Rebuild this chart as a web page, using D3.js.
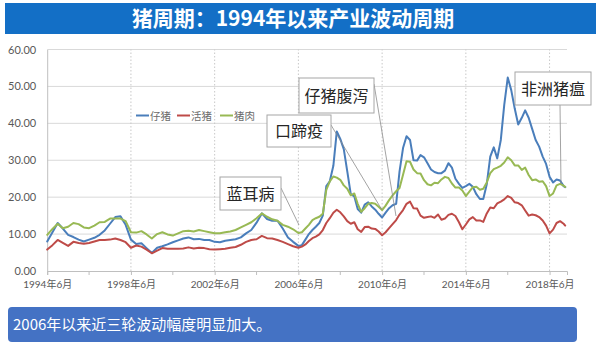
<!DOCTYPE html>
<html>
<head>
<meta charset="utf-8">
<script src="https://cdn.jsdelivr.net/npm/d3@7/dist/d3.min.js"></script>
<style>
  html, body { margin: 0; padding: 0; background: #ffffff; }
  svg { display: block; }
</style>
</head>
<body>
<svg id="chart" width="600" height="349"></svg>
<script>
// Sample dates: quarterly to 2006, every two months afterwards
const months = [
  "1994-06","1994-09","1994-12","1995-03","1995-06","1995-09","1995-12","1996-03","1996-06","1996-09","1996-12","1997-03",
  "1997-06","1997-09","1997-12","1998-03","1998-06","1998-09","1998-12","1999-03","1999-06","1999-09","1999-12","2000-03",
  "2000-06","2000-09","2000-12","2001-03","2001-06","2001-09","2001-12","2002-03","2002-06","2002-09","2002-12","2003-03",
  "2003-06","2003-09","2003-12","2004-03","2004-06","2004-09","2004-12","2005-03","2005-06","2005-09","2005-12","2006-03",
  "2006-06","2006-08","2006-10","2006-12","2007-02","2007-04","2007-06","2007-08","2007-10","2007-12","2008-02","2008-04",
  "2008-06","2008-08","2008-10","2008-12","2009-02","2009-04","2009-06","2009-08","2009-10","2009-12","2010-02","2010-04",
  "2010-06","2010-08","2010-10","2010-12","2011-02","2011-04","2011-06","2011-08","2011-10","2011-12","2012-02","2012-04",
  "2012-06","2012-08","2012-10","2012-12","2013-02","2013-04","2013-06","2013-08","2013-10","2013-12","2014-02","2014-04",
  "2014-06","2014-08","2014-10","2014-12","2015-02","2015-04","2015-06","2015-08","2015-10","2015-12","2016-02","2016-04",
  "2016-06","2016-08","2016-10","2016-12","2017-02","2017-04","2017-06","2017-08","2017-10","2017-12","2018-02","2018-04",
  "2018-06","2018-08","2018-10","2018-12","2019-02","2019-03"
];

// 仔猪 (piglet) price
const piglet = [
  8.0, 10.5, 13.0, 11.5, 9.8, 9.2, 8.5, 8.0, 8.5, 9.0, 9.8, 11.0,
  12.8, 14.6, 14.8, 12.5, 8.5, 7.3, 7.5, 6.2, 4.9, 6.3, 6.7, 7.2,
  7.8, 8.3, 8.8, 9.1, 8.6, 8.7, 8.4, 8.4, 7.9, 7.8, 8.2, 8.4,
  8.6, 9.1, 10.2, 11.1, 13.1, 15.6, 14.1, 13.6, 13.6, 11.5, 9.1, 7.9,
  6.8, 7.0, 8.5, 10.0, 11.1, 12.0, 13.0, 15.0, 23.0, 24.3, 28.5, 37.8,
  35.8, 33.0, 27.0, 20.8, 20.2, 16.8, 15.8, 18.0, 18.6, 17.5, 16.6, 15.5,
  14.5, 15.8, 17.0, 17.8, 18.2, 27.0, 33.3, 36.5, 35.5, 30.0, 29.9, 31.4,
  30.8, 29.2, 27.5, 26.8, 26.5, 26.5, 27.2, 29.2, 28.0, 25.0, 23.6, 22.5,
  23.0, 23.6, 22.8, 20.8, 19.5, 19.5, 23.5, 31.0, 33.5, 30.5, 35.5, 45.0,
  52.4, 49.0, 44.0, 39.7, 41.5, 43.5, 41.5, 38.5, 35.5, 33.7, 31.0, 29.0,
  25.5, 24.0, 24.8, 24.5, 23.0, 22.7
];

// 活猪 (live hog) price
const hog = [
  5.8, 7.0, 8.4, 7.6, 6.8, 7.9, 7.6, 7.4, 7.6, 8.0, 8.4, 8.4,
  8.5, 8.8, 8.4, 7.8, 6.3, 6.9, 6.6, 5.8, 4.8, 5.5, 6.2, 6.0,
  6.0, 6.0, 6.1, 6.4, 6.1, 6.3, 6.2, 5.9, 5.8, 5.9, 6.0, 6.3,
  6.5, 7.1, 7.9, 8.4, 8.6, 9.5, 8.9, 8.8, 8.4, 7.9, 7.3, 6.7,
  6.3, 6.6, 7.2, 8.1, 8.9, 9.3, 9.9, 11.1, 13.0, 14.3, 15.8, 16.6,
  15.9, 14.8, 13.5, 12.8, 13.2, 11.3, 10.6, 11.9, 12.0, 11.5, 11.4, 10.7,
  9.7, 10.5, 11.6, 12.7, 13.8, 15.3, 16.5, 18.2, 18.8, 17.0, 16.9, 15.0,
  14.4, 14.6, 14.8, 14.4, 15.3, 13.9, 14.2, 15.2, 15.5, 14.9, 13.2, 11.3,
  12.6, 14.0, 14.6, 13.7, 13.7, 13.3, 15.6, 17.2, 17.0, 18.3, 18.8, 19.4,
  20.3, 19.8, 18.6, 18.4, 17.8, 16.4, 15.0, 15.3, 15.1, 14.6, 13.7, 12.3,
  10.2, 11.2, 13.0, 13.5, 12.8, 12.3
];

// 猪肉 (pork) price
const pork = [
  9.8, 11.4, 12.8, 11.6, 12.0, 13.0, 12.7, 11.8, 11.6, 12.3, 13.2, 13.3,
  14.2, 14.2, 14.2, 13.5, 10.5, 10.4, 10.8, 9.9, 8.8, 10.0, 10.5, 9.9,
  9.6, 10.2, 10.8, 10.9, 10.7, 11.1, 10.8, 10.5, 10.2, 10.2, 10.5, 10.7,
  11.1, 11.8, 12.5, 13.2, 14.3, 15.6, 14.7, 14.0, 13.6, 12.5, 12.0, 11.3,
  10.3, 10.5, 11.5, 12.5, 13.8, 14.3, 14.7, 15.5, 22.0, 24.3, 25.6, 25.3,
  24.7, 23.2, 22.3, 20.5, 21.0, 18.2, 16.0, 17.0, 18.2, 18.4, 18.2, 17.4,
  16.5, 17.7, 19.2, 20.5, 21.6, 22.5, 26.1, 29.7, 29.6, 27.5, 26.5, 26.4,
  24.6, 23.5, 23.2, 23.9, 23.8, 24.8, 25.5, 25.2, 23.7, 22.6, 22.6, 21.8,
  20.3, 21.5, 22.7, 22.8, 22.0, 22.3, 24.0, 26.5, 27.6, 28.0, 28.5, 29.4,
  30.8, 30.0, 28.6, 28.6, 27.4, 28.0, 26.0, 24.6, 24.8, 24.2, 24.3, 23.0,
  20.3, 21.0, 23.2, 23.6, 23.1, 22.8
];

const seriesNames = ["仔猪", "活猪", "猪肉"];
const seriesColors = ["#4a7ebb", "#be4b48", "#98b954"];
const yTicks = [0, 10, 20, 30, 40, 50, 60];
const labelMonths = ["1994-06", "1998-06", "2002-06", "2006-06", "2010-06", "2014-06", "2018-06"];
const minorMonths = ["1996-06", "2000-06", "2004-06", "2008-06", "2012-06", "2016-06"];
const axisEnd = "2019-04";

const titleText = "猪周期：1994年以来产业波动周期";
const noteText = "2006年以来近三轮波动幅度明显加大。";

// Event callouts: label, box placement, and the leader line target
const events = [
  { label: "蓝耳病",   box: [220, 177, 61, 33], from: [281, 188], to: [299, 225] },
  { label: "口蹄疫",   box: [267, 115, 64, 32], from: [331, 125], to: [382, 210] },
  { label: "仔猪腹泻", box: [299, 78, 75, 35],  from: [374, 84],  to: [396, 216] },
  { label: "非洲猪瘟", box: [515, 72, 76, 33],  from: [560, 105], to: [561, 184] }
];

const parse = d3.timeParse("%Y-%m");
const dates = months.map(parse);
const series = [piglet, hog, pork];

const svg = d3.select("#chart");
const cjk = "'Noto Sans CJK SC', 'Noto Sans', sans-serif";
const latin = "Lato, 'Noto Sans CJK SC', sans-serif";

// Title bar
svg.append("rect").attr("x", 5).attr("y", 3).attr("width", 591).attr("height", 31)
  .attr("fill", "#136fc6");
svg.append("text").attr("x", 293).attr("y", 26).attr("text-anchor", "middle")
  .attr("fill", "#ffffff").attr("font-family", cjk).attr("font-weight", "bold")
  .attr("font-size", 21).text(titleText);

// Scales
const x = d3.scaleTime().domain([parse("1994-06"), parse(axisEnd)]).range([47.2, 567]);
const y = d3.scaleLinear().domain([0, 60]).range([271, 49.5]);

// Horizontal gridlines
svg.append("g").selectAll("line").data(yTicks.filter(v => v > 0)).join("line")
  .attr("x1", x.range()[0]).attr("x2", x.range()[1])
  .attr("y1", d => y(d)).attr("y2", d => y(d))
  .attr("stroke", "#d9d9d9").attr("stroke-width", 1);

// Vertical dotted gridlines at the labelled dates
svg.append("g").selectAll("line").data(labelMonths.slice(1).map(parse)).join("line")
  .attr("x1", d => x(d)).attr("x2", d => x(d))
  .attr("y1", y(0)).attr("y2", y(60))
  .attr("stroke", "#c8c8c8").attr("stroke-width", 1).attr("stroke-dasharray", "1.5,2");

// Y axis
const yAxis = d3.axisLeft(y).tickValues(yTicks).tickFormat(d3.format(".2f")).tickSize(0).tickPadding(11);
const gy = svg.append("g").attr("transform", `translate(${x.range()[0]},0)`).call(yAxis);
gy.select(".domain").attr("stroke", "#bfbfbf");
gy.selectAll("text").attr("font-family", latin).attr("font-size", 11).attr("fill", "#595959");

// X axis with labels every four years and minor ticks in between
const xAxis = d3.axisBottom(x).tickValues(labelMonths.map(parse))
  .tickFormat(d3.timeFormat("%Y年%-m月")).tickSize(4).tickPadding(6);
const gx = svg.append("g").attr("transform", `translate(0,${y(0)})`).call(xAxis);
gx.select(".domain").attr("stroke", "#bfbfbf");
gx.selectAll(".tick line").attr("stroke", "#bfbfbf");
gx.selectAll("text").attr("font-family", latin).attr("font-size", 10).attr("fill", "#595959");
svg.append("g").selectAll("line").data(minorMonths.map(parse)).join("line")
  .attr("x1", d => x(d)).attr("x2", d => x(d))
  .attr("y1", y(0)).attr("y2", y(0) + 4)
  .attr("stroke", "#bfbfbf");

// Price lines
const line = d3.line().x((d, i) => x(dates[i])).y(d => y(d));
series.forEach((vals, k) => {
  svg.append("path").datum(vals)
    .attr("fill", "none").attr("stroke", seriesColors[k])
    .attr("stroke-width", 2).attr("stroke-linejoin", "round").attr("stroke-linecap", "round")
    .attr("d", line);
});

// Legend
const legendX = [136, 177, 220];
const legend = svg.append("g");
seriesNames.forEach((name, k) => {
  legend.append("line").attr("x1", legendX[k]).attr("x2", legendX[k] + 13)
    .attr("y1", 115.5).attr("y2", 115.5)
    .attr("stroke", seriesColors[k]).attr("stroke-width", 2);
  legend.append("text").attr("x", legendX[k] + 14).attr("y", 119.5)
    .attr("font-family", cjk).attr("font-size", 10.5).attr("fill", "#6b6b6b").text(name);
});

// Event callouts
events.forEach(ev => {
  svg.append("line").attr("x1", ev.from[0]).attr("y1", ev.from[1])
    .attr("x2", ev.to[0]).attr("y2", ev.to[1])
    .attr("stroke", "#8c8c8c").attr("stroke-width", 0.8);
});
events.forEach(ev => {
  const [bx, by, bw, bh] = ev.box;
  svg.append("rect").attr("x", bx).attr("y", by).attr("width", bw).attr("height", bh)
    .attr("fill", "#ffffff").attr("stroke", "#a6a6a6").attr("stroke-width", 1);
  svg.append("text").attr("x", bx + bw / 2).attr("y", by + bh / 2 + 6)
    .attr("text-anchor", "middle").attr("font-family", cjk).attr("font-size", 16)
    .attr("fill", "#262626").text(ev.label);
});

// Summary note box
svg.append("rect").attr("x", 8).attr("y", 307).attr("width", 569).attr("height", 35)
  .attr("rx", 4).attr("fill", "#4472c4");
svg.append("text").attr("x", 13).attr("y", 330)
  .attr("font-family", cjk).attr("font-size", 15).attr("fill", "#ffffff").text(noteText);
</script>
</body>
</html>
